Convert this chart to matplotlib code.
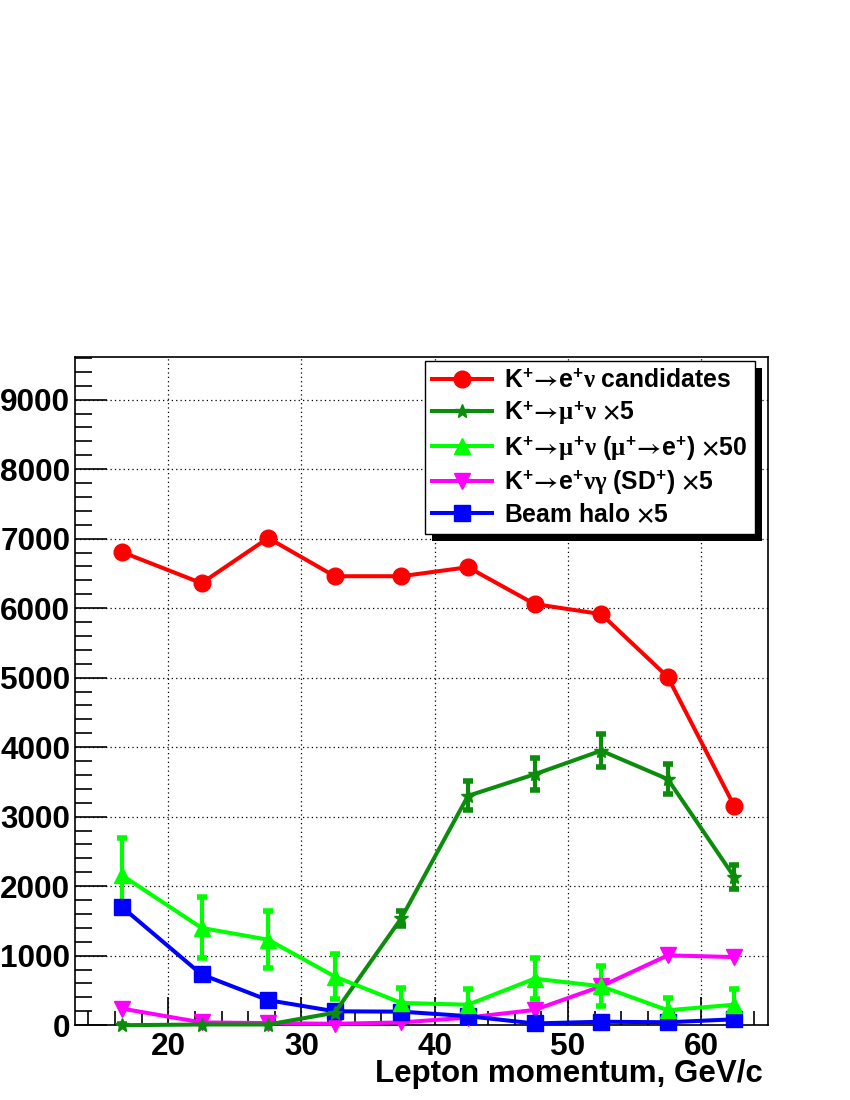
import matplotlib
matplotlib.use('Agg')
import matplotlib.pyplot as plt
from matplotlib.patches import Rectangle
from matplotlib.ticker import MultipleLocator

plt.rcParams['font.family'] = ['Liberation Sans', 'DejaVu Sans']
plt.rcParams['font.weight'] = 'bold'
plt.rcParams['mathtext.fontset'] = 'custom'
plt.rcParams['mathtext.rm'] = 'Liberation Sans:bold'
plt.rcParams['mathtext.bf'] = 'Liberation Sans:bold'
plt.rcParams['mathtext.it'] = 'Liberation Serif'
plt.rcParams['mathtext.sf'] = 'STIXGeneral'

# lepton momentum bin centres, GeV/c
momentum = [16.5, 22.5, 27.5, 32.5, 37.5, 42.5, 47.5, 52.5, 57.5, 62.5]

# K+ -> e+ nu candidates
ke2 = [6810, 6360, 7010, 6460, 6460, 6590, 6060, 5915, 5010, 3150]
# K+ -> mu+ nu  x5
km2 = [0, 10, 10, 180, 1540, 3300, 3610, 3950, 3540, 2130]
km2_err = [20, 20, 20, 40, 110, 210, 230, 240, 220, 170]
# K+ -> mu+ nu (mu+ -> e+)  x50
km2_decay = [2160, 1400, 1230, 700, 320, 295, 670, 560, 215, 295]
km2_decay_err = [540, 440, 410, 320, 210, 220, 300, 285, 180, 230]
# K+ -> e+ nu gamma (SD+)  x5
ke2g = [240, 40, 30, 20, 40, 110, 220, 560, 1005, 980]
# beam halo  x5
halo = [1705, 730, 360, 200, 195, 130, 25, 50, 42, 85]

arrow = r'\!\mathsf{\rightarrow}\!'
times = r'\mathsf{\times}'
labels = [
    r'K$^{+}' + arrow + r'$e$^{+}\nu$ candidates',
    r'K$^{+}' + arrow + r'\mu^{+}\nu$ $' + times + r'$5',
    r'K$^{+}' + arrow + r'\mu^{+}\nu$ ($\mu^{+}' + arrow + r'$e$^{+}$) $' + times + r'$50',
    r'K$^{+}' + arrow + r'$e$^{+}\nu\gamma$ (SD$^{+}$) $' + times + r'$5',
    r'Beam halo $' + times + r'$5',
]

fig = plt.figure(figsize=(8.5, 11), dpi=100)
ax = fig.add_axes([75 / 850, 1 - 1025.2 / 1100, 692.7 / 850, 667.9 / 1100])

lw = 2.9
err_kw = dict(elinewidth=3.0, capsize=3.5, capthick=4.0)

l_ke2, = ax.plot(momentum, ke2, '-o', color='#ff0000', lw=lw, ms=12, zorder=3)
c_km2 = ax.errorbar(momentum, km2, yerr=km2_err, fmt='-*', color='#0b8c0b', lw=lw, ms=10,
                    zorder=3, **err_kw)
c_dec = ax.errorbar(momentum, km2_decay, yerr=km2_decay_err, fmt='-^', color='#00ff00',
                    lw=lw, ms=11, zorder=3, **err_kw)
l_ke2g, = ax.plot(momentum, ke2g, '-v', color='#ff00ff', lw=lw, ms=11, zorder=3)
l_halo, = ax.plot(momentum, halo, '-s', color='#0000ff', lw=lw, ms=11, zorder=3)
for art in [l_ke2, c_km2.lines[0], c_dec.lines[0], l_ke2g, l_halo]:
    art.set_clip_on(False)

ax.set_xlim(13, 65)
ax.set_ylim(0, 9610)
ax.xaxis.set_major_locator(MultipleLocator(10))
ax.xaxis.set_minor_locator(MultipleLocator(2))
ax.yaxis.set_major_locator(MultipleLocator(1000))
ax.yaxis.set_minor_locator(MultipleLocator(200))
ax.tick_params(which='both', direction='in', top=False, right=False,
               labelsize=22.7, width=1.2)
ax.tick_params(axis='y', which='major', length=23, pad=3.5)
ax.tick_params(axis='y', which='minor', length=12)
ax.tick_params(axis='x', which='major', length=20, pad=5)
ax.tick_params(axis='x', which='minor', length=10)
for lab in ax.get_xticklabels() + ax.get_yticklabels():
    lab.set_fontweight('bold')
for sp in ax.spines.values():
    sp.set_linewidth(1.2)
ax.grid(True, which='major', color='black', linestyle=(0, (1, 2.5)), linewidth=0.9)

fig.text(763 / 850, 1 - 1082 / 1100, 'Lepton momentum, GeV/c', ha='right', va='baseline',
         fontsize=22.5, fontweight='bold')

handles = [l_ke2, c_km2.lines[0], c_dec.lines[0], l_ke2g, l_halo]
leg = ax.legend(handles, labels, loc='upper left', bbox_to_anchor=(0.505, 0.9945),
                borderaxespad=0, handlelength=2.4, handletextpad=0.5,
                labelspacing=0.27, borderpad=0.3, fancybox=False, framealpha=1,
                edgecolor='black', prop={'weight': 'bold', 'size': 17.8})
leg.get_frame().set_linewidth(1.0)
leg.set_zorder(6)

fig.canvas.draw()
bb = leg.get_window_extent().transformed(ax.transAxes.inverted())
dx, dy = 7 / 692.7, 7 / 667.9
ax.add_patch(Rectangle((bb.x0 + dx, bb.y0 - dy), bb.width, bb.height, transform=ax.transAxes,
                       facecolor='black', edgecolor='none', zorder=5.9, clip_on=False))

fig.savefig('out.png', dpi=100)
